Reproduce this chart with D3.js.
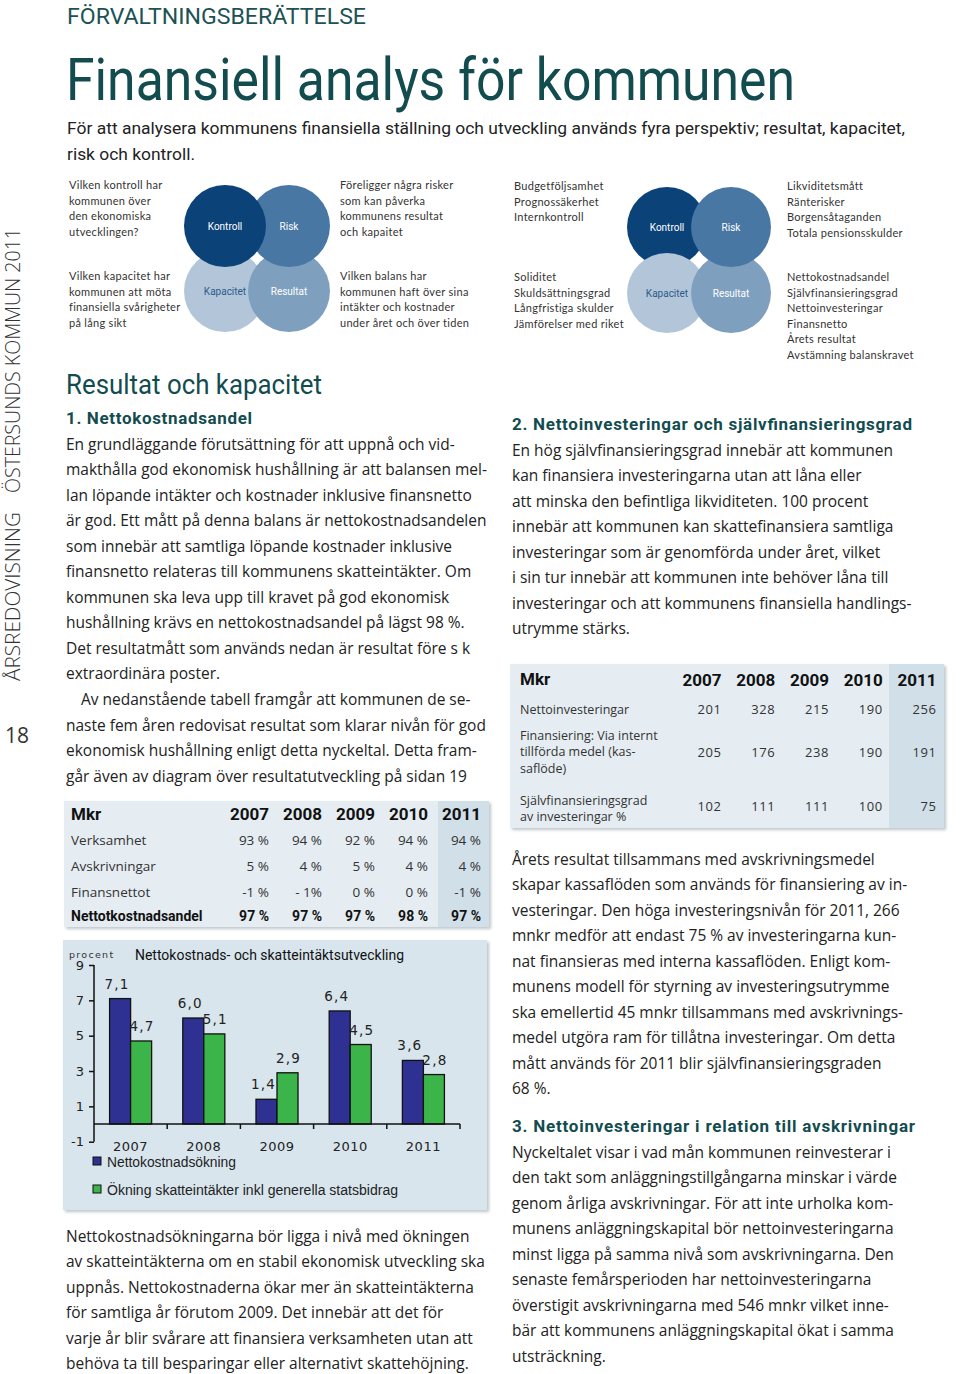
<!DOCTYPE html>
<html><head><meta charset="utf-8">
<script src="https://cdn.jsdelivr.net/npm/d3@7"></script>
<style>body{margin:0;background:#fff} svg{display:block}</style>
</head><body>
<script>
// ---------------- DATA ----------------
const years = ["2007","2008","2009","2010","2011"];
const nettokostnadsokning = [7.1, 6.0, 1.4, 6.4, 3.6];
const skatteintakter = [4.7, 5.1, 2.9, 4.5, 2.8];
const yTicks = [9, 7, 5, 3, 1, -1];
const seriesNames = ["Nettokostnadsökning", "Ökning skatteintäkter inkl generella statsbidrag"];

const t1Labels = ["Verksamhet", "Avskrivningar", "Finansnettot", "Nettotkostnadsandel"];
const t1Verksamhet = ["93 %", "94 %", "92 %", "94 %", "94 %"];
const t1Avskrivningar = ["5 %", "4 %", "5 %", "4 %", "4 %"];
const t1Finansnetto = ["-1 %", "- 1%", "0 %", "0 %", "-1 %"];
const t1Nettokostnadsandel = ["97 %", "97 %", "97 %", "98 %", "97 %"];

const t2Labels = [["Nettoinvesteringar"], ["Finansiering: Via internt", "tillförda medel (kas-", "saflöde)"], ["Självfinansieringsgrad", "av investeringar %"]];
const t2Nettoinvesteringar = [201, 328, 215, 190, 256];
const t2Finansiering = [205, 176, 238, 190, 191];
const t2Sjalvfinansiering = [102, 111, 111, 100, 75];

const circleNames = ["Kontroll", "Risk", "Kapacitet", "Resultat"];

// ---------------- PAGE ----------------
const W = 960, H = 1374;
const svg = d3.select("body").append("svg").attr("width", W).attr("height", H);
const defs = svg.append("defs");
const f = defs.append("filter").attr("id", "sh").attr("x", "-5%").attr("y", "-5%").attr("width", "115%").attr("height", "115%");
f.append("feDropShadow").attr("dx", 2).attr("dy", 2).attr("stdDeviation", 1.8).attr("flood-color", "#8a969e").attr("flood-opacity", 0.55);

const TEAL = "#124c4f";
const TXT = "#222222";
const BODY = "'Open Sans', 'Noto Sans', sans-serif";
const COND = "Roboto, 'Liberation Sans', sans-serif";

function txt(g, x, y, s, o = {}) {
  const t = g.append("text").attr("x", x).attr("y", y).text(s)
    .attr("font-family", o.family || BODY).attr("font-size", o.size || 14)
    .attr("fill", o.fill || TXT);
  if (o.weight) t.attr("font-weight", o.weight);
  if (o.anchor) t.attr("text-anchor", o.anchor);
  if (o.len) t.attr("textLength", o.len).attr("lengthAdjust", o.adj || "spacingAndGlyphs");
  if (o.ls) t.attr("letter-spacing", o.ls);
  return t;
}

// Header
txt(svg, 67, 24, "FÖRVALTNINGSBERÄTTELSE", {family: COND, size: 22, fill: "#1d5255", len: 299, adj: "spacingAndGlyphs"});
txt(svg, 66, 100, "Finansiell analys för kommunen", {family: COND, size: 60, fill: TEAL, len: 729});
txt(svg, 67, 134, "För att analysera kommunens finansiella ställning och utveckling används fyra perspektiv; resultat, kapacitet,", {family: COND, size: 17, fill: TXT, len: 838});
txt(svg, 67, 160, "risk och kontroll.", {family: COND, size: 17, fill: TXT, len: 128});

// Vertical side text
const side = svg.append("g").attr("transform", "translate(20,0)");
side.append("text").attr("transform", "translate(0,681) rotate(-90)").text("ÅRSREDOVISNING")
  .attr("font-family", BODY).attr("font-size", 20).attr("fill", "#333").attr("font-weight", 300)
  .attr("textLength", 169).attr("lengthAdjust", "spacingAndGlyphs");
side.append("text").attr("transform", "translate(0,493) rotate(-90)").text("ÖSTERSUNDS KOMMUN 2011")
  .attr("font-family", BODY).attr("font-size", 20).attr("fill", "#333").attr("font-weight", 300)
  .attr("textLength", 265).attr("lengthAdjust", "spacingAndGlyphs");
txt(svg, 5, 743, "18", {family: BODY, size: 21, fill: "#333"});

// ---------------- Circle diagrams ----------------
const circColors = {Kontroll: "#0b4278", Risk: "#4877a4", Kapacitet: "#b3c6d9", Resultat: "#7f9fbf"};
const circText = {Kontroll: "#fff", Risk: "#fff", Kapacitet: "#2b5b8c", Resultat: "#fff"};
function circles(cx0, cy0, dx, dy, r, order) {
  const pos = {Kontroll: [0, 0], Risk: [1, 0], Kapacitet: [0, 1], Resultat: [1, 1]};
  const g = svg.append("g");
  order.forEach(n => {
    g.append("circle").attr("cx", cx0 + pos[n][0] * dx).attr("cy", cy0 + pos[n][1] * dy).attr("r", r).attr("fill", circColors[n]);
  });
  circleNames.forEach(n => {
    g.append("text").attr("x", cx0 + pos[n][0] * dx).attr("y", cy0 + pos[n][1] * dy + 3.5).text(n)
      .attr("text-anchor", "middle").attr("font-family", COND).attr("font-size", 10).attr("fill", circText[n]);
  });
}
circles(225, 226, 64, 65, 41, ["Kapacitet", "Resultat", "Risk", "Kontroll"]);
circles(667, 227, 64, 66, 40, ["Kontroll", "Kapacitet", "Resultat", "Risk"]);

function smallBlock(x, y0, lines) {
  lines.forEach((s, i) => txt(svg, x, y0 + i * 15.5, s, {family: "Lato, 'Open Sans', sans-serif", size: 11, fill: "#333", ls: 0.3}));
}
smallBlock(69, 189, ["Vilken kontroll har", "kommunen över", "den ekonomiska", "utvecklingen?"]);
smallBlock(69, 280, ["Vilken kapacitet har", "kommunen att möta", "finansiella svårigheter", "på lång sikt"]);
smallBlock(340, 189, ["Föreligger några risker", "som kan påverka", "kommunens resultat", "och kapaitet"]);
smallBlock(340, 280, ["Vilken balans har", "kommunen haft över sina", "intäkter och kostnader", "under året och över tiden"]);
smallBlock(514, 190, ["Budgetföljsamhet", "Prognossäkerhet", "Internkontroll"]);
smallBlock(514, 281, ["Soliditet", "Skuldsättningsgrad", "Långfristiga skulder", "Jämförelser med riket"]);
smallBlock(787, 190, ["Likviditetsmått", "Ränterisker", "Borgensåtaganden", "Totala pensionsskulder"]);
smallBlock(787, 281, ["Nettokostnadsandel", "Självfinansieringsgrad", "Nettoinvesteringar", "Finansnetto", "Årets resultat", "Avstämning balanskravet"]);

// ---------------- Body text ----------------
const probe = txt(svg, 0, -100, "En grundläggande förutsättning för att uppnå och vid-", {size: 16});
const bodySize = 16 * 389 / probe.node().getComputedTextLength();
probe.remove();

function para(x, y0, lines, lh = 25.55) {
  lines.forEach((s, i) => {
    const ind = s.startsWith("\t") ? 15 : 0;
    txt(svg, x + ind, y0 + i * lh, s.replace("\t", ""), {size: bodySize, fill: TXT});
  });
}
txt(svg, 66, 394, "Resultat och kapacitet", {family: COND, size: 27, fill: TEAL, len: 256});
txt(svg, 66, 424, "1. Nettokostnadsandel", {family: COND, size: 17, weight: 700, fill: TEAL, len: 186, adj: "spacing"});
para(66, 449.5, [
  "En grundläggande förutsättning för att uppnå och vid-",
  "makthålla god ekonomisk hushållning är att balansen mel-",
  "lan löpande intäkter och kostnader inklusive finansnetto",
  "är god. Ett mått på denna balans är nettokostnadsandelen",
  "som innebär att samtliga löpande kostnader inklusive",
  "finansnetto relateras till kommunens skatteintäkter. Om",
  "kommunen ska leva upp till kravet på god ekonomisk",
  "hushållning krävs en nettokostnadsandel på lägst 98 %.",
  "Det resultatmått som används nedan är resultat före s k",
  "extraordinära poster.",
  "\tAv nedanstående tabell framgår att kommunen de se-",
  "naste fem åren redovisat resultat som klarar nivån för god",
  "ekonomisk hushållning enligt detta nyckeltal. Detta fram-",
  "går även av diagram över resultatutveckling på sidan 19"
]);
para(66, 1241.5, [
  "Nettokostnadsökningarna bör ligga i nivå med ökningen",
  "av skatteintäkterna om en stabil ekonomisk utveckling ska",
  "uppnås. Nettokostnaderna ökar mer än skatteintäkterna",
  "för samtliga år förutom 2009. Det innebär att det för",
  "varje år blir svårare att finansiera verksamheten utan att",
  "behöva ta till besparingar eller alternativt skattehöjning."
]);
txt(svg, 512, 430, "2. Nettoinvesteringar och självfinansieringsgrad", {family: COND, size: 17, weight: 700, fill: TEAL, len: 400, adj: "spacing"});
para(512, 455.5, [
  "En hög självfinansieringsgrad innebär att kommunen",
  "kan finansiera investeringarna utan att låna eller",
  "att minska den befintliga likviditeten. 100 procent",
  "innebär att kommunen kan skattefinansiera samtliga",
  "investeringar som är genomförda under året, vilket",
  "i sin tur innebär att kommunen inte behöver låna till",
  "investeringar och att kommunens finansiella handlings-",
  "utrymme stärks."
]);
para(512, 864.5, [
  "Årets resultat tillsammans med avskrivningsmedel",
  "skapar kassaflöden som används för finansiering av in-",
  "vesteringar. Den höga investeringsnivån för 2011, 266",
  "mnkr medför att endast 75 % av investeringarna kun-",
  "nat finansieras med interna kassaflöden. Enligt kom-",
  "munens modell för styrning av investeringsutrymme",
  "ska emellertid 45 mnkr tillsammans med avskrivnings-",
  "medel utgöra ram för tillåtna investeringar. Om detta",
  "mått används för 2011 blir självfinansieringsgraden",
  "68 %."
]);
txt(svg, 512, 1132, "3. Nettoinvesteringar i relation till avskrivningar", {family: COND, size: 17, weight: 700, fill: TEAL, len: 403, adj: "spacing"});
para(512, 1157.5, [
  "Nyckeltalet visar i vad mån kommunen reinvesterar i",
  "den takt som anläggningstillgångarna minskar i värde",
  "genom årliga avskrivningar. För att inte urholka kom-",
  "munens anläggningskapital bör nettoinvesteringarna",
  "minst ligga på samma nivå som avskrivningarna. Den",
  "senaste femårsperioden har nettoinvesteringarna",
  "överstigit avskrivningarna med 546 mnkr vilket inne-",
  "bär att kommunens anläggningskapital ökat i samma",
  "utsträckning."
]);

// ---------------- Table 1 ----------------
const PANEL = "#e5edf2", HILITE = "#d0dfe8";
const t1 = svg.append("g");
t1.append("rect").attr("x", 64).attr("y", 801).attr("width", 425).attr("height", 126).attr("fill", PANEL).attr("filter", "url(#sh)");
t1.append("rect").attr("x", 438).attr("y", 801).attr("width", 51).attr("height", 126).attr("fill", HILITE);
const c1 = d3.scalePoint().domain(years).range([269, 481]);
txt(t1, 71, 820, "Mkr", {family: COND, size: 17, weight: 700, fill: "#111"});
years.forEach(y => txt(t1, c1(y), 820, y, {family: COND, size: 17, weight: 700, fill: "#111", anchor: "end"}));
const t1Data = [t1Verksamhet, t1Avskrivningar, t1Finansnetto, t1Nettokostnadsandel];
const t1Y = [845, 871, 897, 921];
t1Labels.forEach((lab, i) => {
  const bold = i === 3;
  txt(t1, 71, t1Y[i], lab, bold ? {family: COND, size: 14, weight: 700, fill: "#111"} : {size: 13.5, fill: "#333"});
  t1Data[i].forEach((v, j) => txt(t1, c1(years[j]), t1Y[i], v, bold ? {family: COND, size: 14, weight: 700, fill: "#111", anchor: "end"} : {size: 13.5, fill: "#333", anchor: "end"}));
});

// ---------------- Table 2 ----------------
const t2 = svg.append("g");
t2.append("rect").attr("x", 510).attr("y", 664).attr("width", 434).attr("height", 164).attr("fill", PANEL).attr("filter", "url(#sh)");
t2.append("rect").attr("x", 889).attr("y", 664).attr("width", 55).attr("height", 164).attr("fill", HILITE);
const c2 = d3.scalePoint().domain(years).range([721.5, 936.5]);
txt(t2, 520, 685, "Mkr", {family: COND, size: 17, weight: 700, fill: "#111"});
years.forEach(y => txt(t2, c2(y), 686, y, {family: COND, size: 17, weight: 700, fill: "#111", anchor: "end"}));
const t2Data = [t2Nettoinvesteringar, t2Finansiering, t2Sjalvfinansiering];
const t2LabelY = [713.5, 739.5, 804.5];
const t2ValY = [713.5, 756.5, 810.5];
t2Labels.forEach((lines, i) => {
  lines.forEach((s, k) => txt(t2, 520, t2LabelY[i] + k * 16.5, s, {size: 12.5, fill: "#333"}));
  t2Data[i].forEach((v, j) => txt(t2, c2(years[j]), t2ValY[i], v, {size: 13, fill: "#333", anchor: "end", ls: 0.6}));
});

// ---------------- Bar chart ----------------
const ch = svg.append("g");
ch.append("rect").attr("x", 63).attr("y", 940).attr("width", 424).attr("height", 270).attr("fill", "#d8e5ed").attr("filter", "url(#sh)");
const x = d3.scaleBand().domain(years).range([94, 460]).paddingInner(0.426).paddingOuter(0.213);
const xs = d3.scaleBand().domain([0, 1]).range([0, x.bandwidth()]);
const y = d3.scaleLinear().domain([-1, 9]).range([1141.7, 965]);
const VERD = "'DejaVu Sans', Verdana, sans-serif";

txt(ch, 69, 958, "procent", {family: VERD, size: 9.5, fill: "#333", ls: 1.3});
txt(ch, 135, 960, "Nettokostnads- och skatteintäktsutveckling", {family: COND, size: 15, fill: "#111", len: 269});

// y axis
const ya = ch.append("g").attr("transform", "translate(94,0)")
  .call(d3.axisLeft(y).tickValues(yTicks).tickSize(5).tickPadding(5).tickFormat(d => String(d)));
ya.select(".domain").attr("stroke", "#111").attr("stroke-width", 1.5).attr("d", `M0,${y(-1)}V${y(9)}`);
ya.selectAll(".tick line").attr("stroke", "#111").attr("stroke-width", 1.5);
ya.selectAll(".tick text").attr("font-family", VERD).attr("font-size", 13).attr("fill", "#222");

// bars
const series = [nettokostnadsokning, skatteintakter];
const colors = ["#2e3192", "#3bb54a"];
series.forEach((vals, si) => {
  ch.selectAll(null).data(years).join("rect")
    .attr("x", d => x(d) + xs(si)).attr("width", xs.bandwidth())
    .attr("y", (d, i) => y(vals[i])).attr("height", (d, i) => y(0) - y(vals[i]))
    .attr("fill", colors[si]).attr("stroke", "#111").attr("stroke-width", 1.3);
});
// x axis
const step = x.step();
const x0 = x.range()[0];
ch.append("line").attr("x1", x0).attr("x2", x.range()[1]).attr("y1", y(0)).attr("y2", y(0)).attr("stroke", "#111").attr("stroke-width", 1.5);
years.forEach((d, i) => {
  const bx = x(d) - step * x.paddingOuter() + step;
  ch.append("line").attr("x1", bx).attr("x2", bx).attr("y1", y(0)).attr("y2", y(0) + 5).attr("stroke", "#111").attr("stroke-width", 1.5);
  txt(ch, x(d) + x.bandwidth() / 2, 1151, d, {family: VERD, size: 13, fill: "#222", anchor: "middle", ls: 0.5});
});
// value labels
const fmt = v => d3.format(".1f")(v).replace(".", ",");
series.forEach((vals, si) => {
  years.forEach((d, i) => {
    txt(ch, x(d) + xs(si) + xs.bandwidth() / 2 + (si === 0 ? -3 : 1), y(vals[i]) - 10, fmt(vals[i]),
      {family: VERD, size: 13.5, fill: "#222", anchor: "middle", ls: 1.2});
  });
});
// legend
const legY = [1157, 1185];
seriesNames.forEach((n, i) => {
  ch.append("rect").attr("x", 93).attr("y", legY[i]).attr("width", 8).attr("height", 8).attr("fill", colors[i]).attr("stroke", "#111").attr("stroke-width", 1);
  txt(ch, 107, legY[i] + 9.5, n, {family: "'Liberation Sans', Arial, sans-serif", size: 14, fill: "#222", len: i === 0 ? 129 : 291, adj: "spacingAndGlyphs"});
});
</script>
</body></html>
